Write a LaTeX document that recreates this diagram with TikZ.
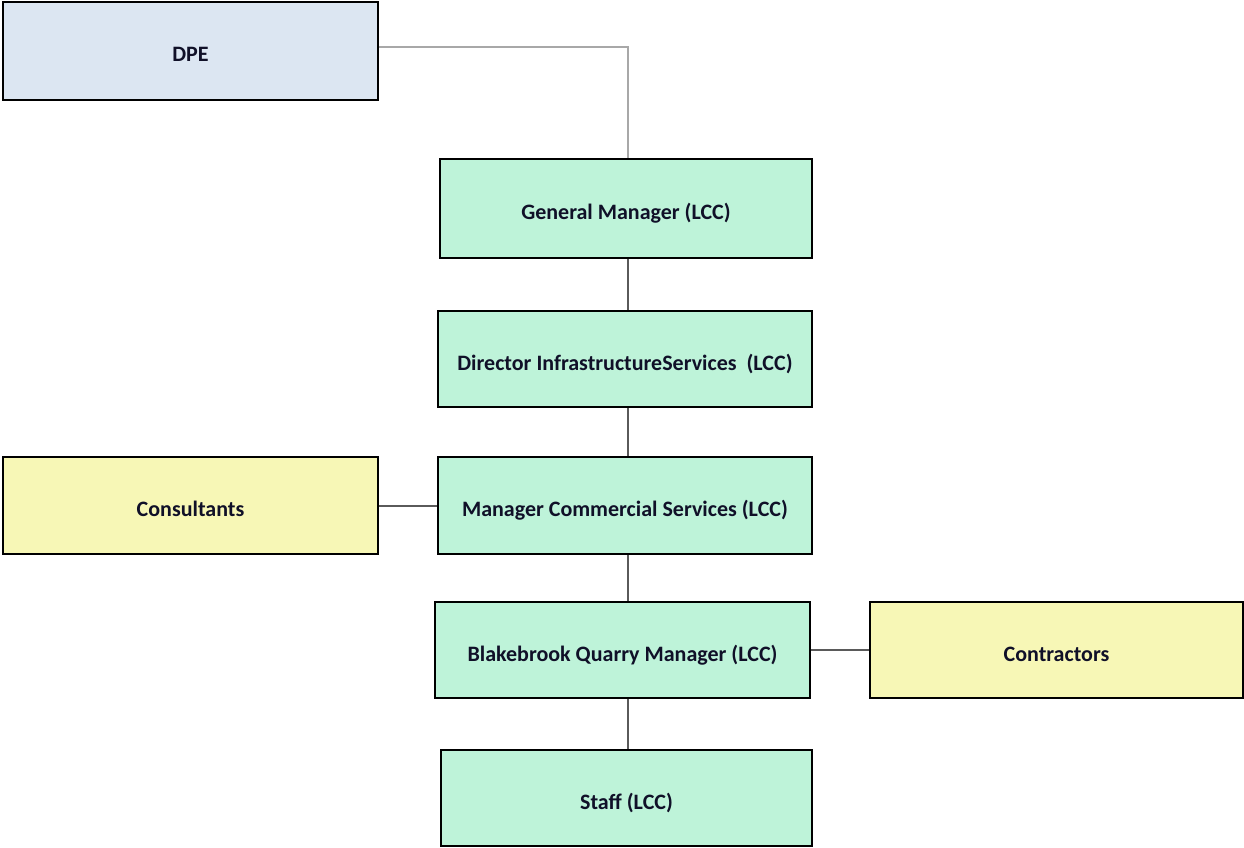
\documentclass[tikz,border=0pt]{standalone}
\usepackage{fontspec}
\setmainfont{Carlito}
\definecolor{bluefill}{HTML}{DCE6F2}
\definecolor{greenfill}{HTML}{BEF3D9}
\definecolor{yellowfill}{HTML}{F7F7B6}
\definecolor{linkgray}{HTML}{5A5A5A}
\definecolor{lightlink}{HTML}{A8A8A8}
\definecolor{textdark}{HTML}{101028}
\begin{document}
\begin{tikzpicture}[x=1pt,y=-1pt,
  box/.style={draw=black, line width=1.6pt, inner sep=0pt, font=\fontsize{22}{26}\selectfont\bfseries, text=textdark, text height=22pt, text depth=0pt},
  bluebox/.style={box, fill=bluefill},
  greenbox/.style={box, fill=greenfill},
  yellowbox/.style={box, fill=yellowfill},
  link/.style={draw=linkgray, line width=2pt},
  softlink/.style={draw=lightlink, line width=1.6pt}]
\useasboundingbox (0,0) rectangle (1244,848);
\node[bluebox, minimum width=375pt, minimum height=98pt] (dpe) at (190.5,51) {DPE};
\node[greenbox, minimum width=372pt, minimum height=99pt] (gm) at (626,208.5) {General Manager (LCC)};
\node[greenbox, minimum width=374pt, minimum height=96pt] (dir) at (625,359) {Director InfrastructureServices\ \ (LCC)};
\node[greenbox, minimum width=374pt, minimum height=97pt] (mcs) at (625,505.5) {Manager Commercial Services (LCC)};
\node[yellowbox, minimum width=375pt, minimum height=97pt] (cons) at (190.5,505.5) {Consultants};
\node[greenbox, minimum width=375pt, minimum height=96pt] (bqm) at (622.5,650) {Blakebrook Quarry Manager (LCC)};
\node[yellowbox, minimum width=373pt, minimum height=96pt] (contr) at (1056.5,650) {Contractors};
\node[greenbox, minimum width=371pt, minimum height=96pt] (staff) at (626.5,798) {Staff (LCC)};
\coordinate (dpeout) at ([yshift=4pt]dpe.east);
\coordinate (bend) at (628,0 |- dpeout);
\draw[softlink] (dpeout) -- (bend) -- (bend |- gm.north);
\draw[link] (bend |- gm.south) -- (bend |- dir.north);
\draw[link] (bend |- dir.south) -- (bend |- mcs.north);
\draw[link] (bend |- mcs.south) -- (bend |- bqm.north);
\draw[link] (bend |- bqm.south) -- (bend |- staff.north);
\draw[link] (cons.east) -- (mcs.west);
\draw[link] (bqm.east) -- (contr.west);
\end{tikzpicture}
\end{document}
